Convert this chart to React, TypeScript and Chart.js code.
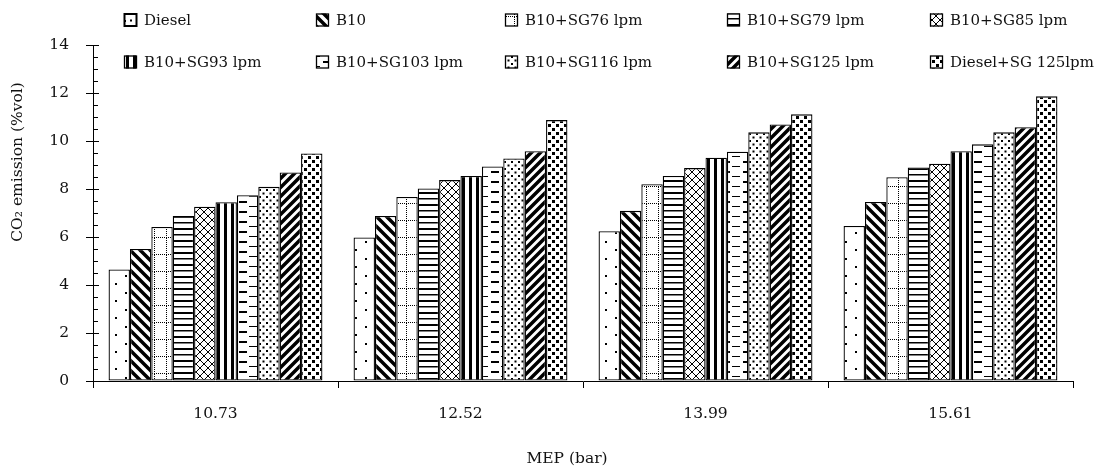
import React, { useEffect, useRef } from "react";
import { Chart, registerables } from "chart.js";
Chart.register(...registerables);

const categories = ["10.73", "12.52", "13.99", "15.61"];
const seriesNames = [
  "Diesel",
  "B10",
  "B10+SG76 lpm",
  "B10+SG79 lpm",
  "B10+SG85 lpm",
  "B10+SG93 lpm",
  "B10+SG103 lpm",
  "B10+SG116 lpm",
  "B10+SG125 lpm",
  "Diesel+SG 125lpm",
];
const diesel = [4.65, 5.98, 6.24, 6.46];
const b10 = [5.5, 6.88, 7.09, 7.46];
const sg76 = [6.42, 7.67, 8.2, 8.49];
const sg79 = [6.88, 8.02, 8.54, 8.9];
const sg85 = [7.26, 8.37, 8.87, 9.05];
const sg93 = [7.45, 8.54, 9.3, 9.57];
const sg103 = [7.74, 8.94, 9.55, 9.86];
const sg116 = [8.09, 9.27, 10.36, 10.36];
const sg125 = [8.69, 9.57, 10.69, 10.57];
const dieselSg = [9.48, 10.87, 11.11, 11.86];
const seriesValues = [diesel, b10, sg76, sg79, sg85, sg93, sg103, sg116, sg125, dieselSg];

const yMin = 0;
const yMax = 14;
const yStep = 2;
const yMinorStep = 0.5;
const xTitle = "MEP (bar)";
const yTitle = "CO₂ emission (%vol)";

const FONT = "'DejaVu Serif', serif";

type Drawer = (g: CanvasRenderingContext2D, w: number, h: number) => void;

function makePattern(w: number, h: number, draw: Drawer): CanvasPattern | string {
  const c = document.createElement("canvas");
  c.width = w;
  c.height = h;
  const g = c.getContext("2d");
  if (!g) return "#fff";
  g.fillStyle = "#fff";
  g.fillRect(0, 0, w, h);
  g.fillStyle = "#000";
  g.strokeStyle = "#000";
  draw(g, w, h);
  const p = g.createPattern(c, "repeat");
  return p || "#fff";
}

function buildPatterns() {
  return [
    // Diesel: sparse dots
    makePattern(20, 17, (g) => {
      g.fillRect(5, 3, 2, 2);
      g.fillRect(15, 11, 2, 2);
    }),
    // B10: thick "\" stripes
    makePattern(10, 10, (g) => {
      g.lineWidth = 3.5;
      g.beginPath();
      g.moveTo(-2, -2);
      g.lineTo(12, 12);
      g.moveTo(-2, 8);
      g.lineTo(2, 12);
      g.moveTo(8, -2);
      g.lineTo(12, 2);
      g.stroke();
    }),
    // SG76: dotted grid
    makePattern(12, 17, (g) => {
      for (let y = 0; y < 17; y += 2) g.fillRect(10, y, 1, 1);
      for (let x = 0; x < 12; x += 2) g.fillRect(x, 16, 1, 1);
    }),
    // SG79: horizontal lines
    makePattern(4, 12, (g) => {
      g.fillRect(0, 0, 4, 2);
      g.fillRect(0, 6, 4, 1.5);
    }),
    // SG85: cross hatch
    makePattern(8, 8, (g) => {
      g.lineWidth = 1;
      g.beginPath();
      g.moveTo(0, 0);
      g.lineTo(8, 8);
      g.moveTo(8, 0);
      g.lineTo(0, 8);
      g.stroke();
    }),
    // SG93: vertical stripes
    makePattern(7, 4, (g) => {
      g.fillRect(0, 0, 3, 4);
    }),
    // SG103: dashes
    makePattern(21, 10, (g) => {
      g.fillRect(8, 1, 8, 2);
      g.fillRect(0, 6, 5, 1);
      g.fillRect(18, 6, 3, 1);
    }),
    // SG116: dense dots
    makePattern(7, 7, (g) => {
      g.fillRect(0, 0, 2, 2);
      g.fillRect(3.5, 3.5, 2, 2);
    }),
    // SG125: thick "/" stripes
    makePattern(9, 9, (g) => {
      g.lineWidth = 3.5;
      g.beginPath();
      g.moveTo(-2, 11);
      g.lineTo(11, -2);
      g.moveTo(-2, 2);
      g.lineTo(2, -2);
      g.moveTo(7, 11);
      g.lineTo(11, 7);
      g.stroke();
    }),
    // Diesel+SG: checker squares
    makePattern(8, 8, (g) => {
      g.fillRect(0, 0, 3, 3);
      g.fillRect(4, 4, 3, 3);
    }),
  ];
}

const legendCols = [124, 316, 505, 727, 930];
const legendRows = [20, 62];

const customPlugin = {
  id: "custom",
  afterDraw(chart: any) {
    const ctx: CanvasRenderingContext2D = chart.ctx;
    const y = chart.scales.y;
    const x = chart.scales.x;
    const area = chart.chartArea;
    ctx.save();
    // inside ticks on y axis
    ctx.strokeStyle = "#000";
    ctx.lineWidth = 1;
    ctx.beginPath();
    for (let v = yMin; v <= yMax + 1e-9; v += yMinorStep) {
      const py = Math.round(y.getPixelForValue(v)) + 0.5;
      const major = Math.abs(v / yStep - Math.round(v / yStep)) < 1e-6;
      ctx.moveTo(area.left, py);
      ctx.lineTo(area.left + (major ? 6 : 5), py);
    }
    ctx.stroke();

    // legend
    const ds = chart.data.datasets;
    ctx.font = "15px " + FONT;
    ctx.textBaseline = "middle";
    ctx.textAlign = "left";
    for (let i = 0; i < ds.length; i++) {
      const col = i % 5;
      const row = Math.floor(i / 5);
      const bx = legendCols[col];
      const by = legendRows[row] - 6.5;
      ctx.fillStyle = ds[i].backgroundColor;
      ctx.fillRect(bx, by, 13, 13);
      ctx.lineWidth = i === 0 ? 2 : 1.3;
      ctx.strokeStyle = "#000";
      ctx.strokeRect(bx + 0.5, by + 0.5, 12, 12);
      if (i === 0) {
        ctx.fillStyle = "#fff";
        ctx.fillRect(bx + 2, by + 2, 9, 9);
        ctx.fillStyle = "#000";
        ctx.fillRect(bx + 6, by + 6, 2, 2);
      }
      ctx.fillStyle = "#111";
      ctx.fillText(ds[i].label, bx + 20, legendRows[row] + 1);
    }

    // axis titles
    ctx.fillStyle = "#111";
    ctx.font = "15.5px " + FONT;
    ctx.textAlign = "center";
    ctx.textBaseline = "middle";
    ctx.fillText(xTitle, (x.left + x.right) / 2 - 16, 459);
    ctx.save();
    ctx.translate(18, 162);
    ctx.rotate(-Math.PI / 2);
    ctx.fillText(yTitle, 0, 0);
    ctx.restore();
    ctx.restore();
  },
};

export default function App() {
  const ref = useRef<HTMLCanvasElement | null>(null);
  useEffect(() => {
    if (!ref.current) return;
    const patterns = buildPatterns();
    const chart = new Chart(ref.current, {
      type: "bar",
      data: {
        labels: categories,
        datasets: seriesValues.map((vals, i) => ({
          label: seriesNames[i],
          data: vals,
          backgroundColor: patterns[i] as any,
          borderColor: "#000",
          borderWidth: 1.3,
          borderSkipped: false,
          categoryPercentage: 0.873,
          barPercentage: 1.0,
        })),
      },
      plugins: [customPlugin],
      options: {
        responsive: false,
        animation: false,
        devicePixelRatio: 1,
        layout: { padding: { left: 0, right: 30, top: 45, bottom: 0 } },
        plugins: {
          legend: { display: false },
          tooltip: { enabled: false },
          title: { display: false },
        },
        scales: {
          x: {
            type: "category",
            afterFit: (s: any) => {
              s.height = 91;
            },
            grid: {
              display: true,
              offset: true,
              drawOnChartArea: false,
              drawTicks: true,
              tickLength: 7,
              color: "#000",
              lineWidth: 1,
            },
            border: { display: true, color: "#000", width: 1 },
            ticks: {
              color: "#111",
              font: { family: FONT, size: 15.5 },
              padding: 17,
              maxRotation: 0,
            },
          },
          y: {
            min: yMin,
            max: yMax,
            afterFit: (s: any) => {
              s.width = 93;
            },
            grid: {
              display: true,
              drawOnChartArea: false,
              drawTicks: true,
              tickLength: 7,
              color: "#000",
              lineWidth: 1,
            },
            border: { display: true, color: "#000", width: 1 },
            ticks: {
              stepSize: yStep,
              color: "#111",
              font: { family: FONT, size: 15.5 },
              padding: 17,
            },
          },
        },
      },
    });
    return () => chart.destroy();
  }, []);
  return (
    <div style={{ position: "absolute", left: 0, top: 0, width: 1103, height: 472, background: "#fff" }}>
      <canvas ref={ref} width={1103} height={472} style={{ width: 1103, height: 472, display: "block" }} />
    </div>
  );
}
